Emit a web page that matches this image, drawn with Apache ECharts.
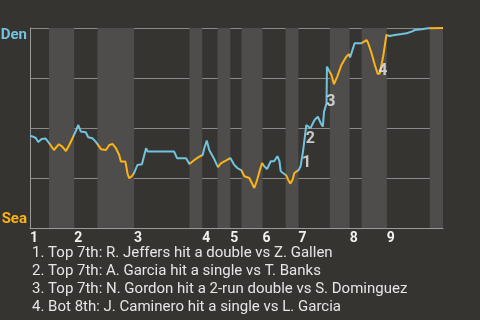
<!DOCTYPE html>
<html><head><meta charset="utf-8">
<script src="https://cdn.jsdelivr.net/npm/echarts@6/dist/echarts.min.js"></script>
<style>html,body{margin:0;padding:0;background:#363431;}#c{width:480px;height:320px;}</style>
</head><body><div id="c"></div>
<script>
// Game progress (0-100) vs Denver win probability (%)
const progress = [0,0.7,1.4,2.0,2.8,3.8,4.6,5.8,7.0,7.8,8.7,9.5,10.3,10.7,11.2,11.7,12.3,13.5,14.1,15.1,15.9,16.3,17.2,18.4,19.2,20.0,20.8,21.6,22.0,23.1,23.6,24.0,24.7,25.2,26.0,27.1,28.1,28.5,34.9,35.6,37.8,38.6,39.8,41.0,41.8,42.2,42.8,43.4,44.5,45.5,46.2,47.4,48.5,49.4,50.2,51.2,51.9,53.1,53.5,54.3,54.9,55.7,56.2,56.7,57.4,58.3,59.1,59.9,60.4,60.7,62.0,62.5,63.0,63.6,64.0,65.0,65.5,66.1,66.9,67.9,68.9,69.7,70.4,70.9,71.2,71.8,71.9,72.3,72.6,73.0,73.6,74.4,75.4,76.6,77.2,77.5,78.6,80.3,81.5,81.9,82.7,83.5,84.2,84.7,85.5,86.3,87.1,88.3,90.0,91.2,91.6,92.4,93.2,94.8,96.4,96.8,100];
const winProb = [46.0,45.7,45.0,43.0,44.5,44.7,42.5,39.0,41.9,40.7,38.5,41.5,44.9,45.7,49.0,51.5,48.2,47.9,45.4,44.9,43.2,42.4,39.4,39.0,41.5,42.0,39.9,36.5,33.2,33.2,27.4,24.9,26.0,27.4,31.5,31.9,39.9,38.2,38.2,34.9,34.9,32.0,34.0,35.7,36.5,39.9,43.7,39.0,34.9,30.4,32.3,33.7,35.0,31.7,30.0,28.8,25.9,25.0,23.4,20.0,23.4,29.2,32.5,30.9,29.5,33.4,33.4,35.9,33.4,28.4,26.4,24.2,22.2,24.2,27.5,28.9,30.7,38.2,51.5,49.9,54.0,55.7,52.4,50.7,58.2,62.4,80.7,79.0,78.0,76.5,71.9,75.7,81.5,85.7,86.9,85.3,92.4,92.4,94.0,92.4,87.4,81.5,77.0,77.4,85.7,96.5,96.0,96.5,97.0,97.4,96.5,98.2,99.0,99.4,99.9,99.9,100];
// half-inning boundaries (top1, bot1, top2, ...)
const halfBounds = [0,4.6,10.7,16.3,25.2,38.6,41.7,45.4,48.5,51.2,56.3,61.9,65.0,72.6,77.4,80.3,86.4,96.8,100];
const innings = ['1','2','3','4','5','6','7','8','9'];
// annotated plays
const notePos = [65.6,66.5,71.5,84.1];
const noteProb = [32.5,44.5,63.0,78.5];
const noteLabels = ['1','2','3','4'];
const footnotes = [
  '1. Top 7th: R. Jeffers hit a double vs Z. Gallen',
  '2. Top 7th: A. Garcia hit a single vs T. Banks',
  '3. Top 7th: N. Gordon hit a 2-run double vs S. Dominguez',
  '4. Bot 8th: J. Caminero hit a single vs L. Garcia'
];
const teamTop = 'Den', teamBottom = 'Sea';

const BLUE = '#72c3dd', ORANGE = '#fbb316';
const inningStarts = halfBounds.filter((v,i)=>i%2===0 && i<halfBounds.length-1);
const pieces = [];
const areas = [];
for (let i=0;i<halfBounds.length-1;i++){
  pieces.push({gt: i===0?-1:halfBounds[i], lte: halfBounds[i+1], color: i%2===0?BLUE:ORANGE});
  if (i%2===1) areas.push([{xAxis: halfBounds[i]},{xAxis: halfBounds[i+1]}]);
}
const chart = echarts.init(document.getElementById('c'));
chart.setOption({
  backgroundColor:'#363431',
  animation:false,
  grid:{left:30,right:37,top:28,bottom:92,outerBoundsMode:'none',containLabel:false},
  xAxis:{type:'value',min:0,max:100,
    axisLine:{show:true,lineStyle:{color:'#9a9a9a',width:1}},
    axisTick:{show:false},splitLine:{show:false},
    axisLabel:{customValues:inningStarts,formatter:v=>innings[inningStarts.indexOf(v)],
      color:'#f0f0f0',fontFamily:'Roboto',fontWeight:'bold',fontSize:14,align:'left',margin:3}},
  yAxis:{type:'value',min:0,max:100,interval:25,
    axisLine:{show:true,lineStyle:{color:'#9a9a9a',width:1}},
    axisTick:{show:false},
    splitLine:{lineStyle:{color:'#8a8a8a',width:1}},
    axisLabel:{margin:3,fontFamily:'Roboto',fontWeight:'bold',fontSize:15,
      verticalAlignMaxLabel:'top',verticalAlignMinLabel:'bottom',
      formatter:v=>v===100?'{a|'+teamTop+'}':(v===0?'{b|'+teamBottom+'}':''),
      rich:{a:{color:BLUE,fontFamily:'Roboto',fontWeight:'bold',fontSize:15},
            b:{color:ORANGE,fontFamily:'Roboto',fontWeight:'bold',fontSize:15,padding:[0,0,1,0]}}}},
  visualMap:{show:false,type:'piecewise',dimension:0,seriesIndex:0,pieces:pieces},
  series:[
    {type:'line',data:progress.map((p,i)=>[p,winProb[i]]),showSymbol:false,
     lineStyle:{width:2},z:3,
     markArea:{silent:true,itemStyle:{color:'#4e4d4b'},data:areas}},
    {type:'scatter',data:notePos.map((p,i)=>[p,noteProb[i],noteLabels[i]]),symbolSize:0,z:4,
     label:{show:true,position:'right',distance:1,formatter:d=>d.value[2],
       color:'#eeeeee',fontFamily:'Roboto',fontWeight:'bold',fontSize:16}}
  ],
  graphic:[{type:'text',left:32,top:244,style:{text:footnotes.join('\n'),
    font:'15px Roboto',lineHeight:18,fill:'#e6e6e6'}}]
});
</script></body></html>
